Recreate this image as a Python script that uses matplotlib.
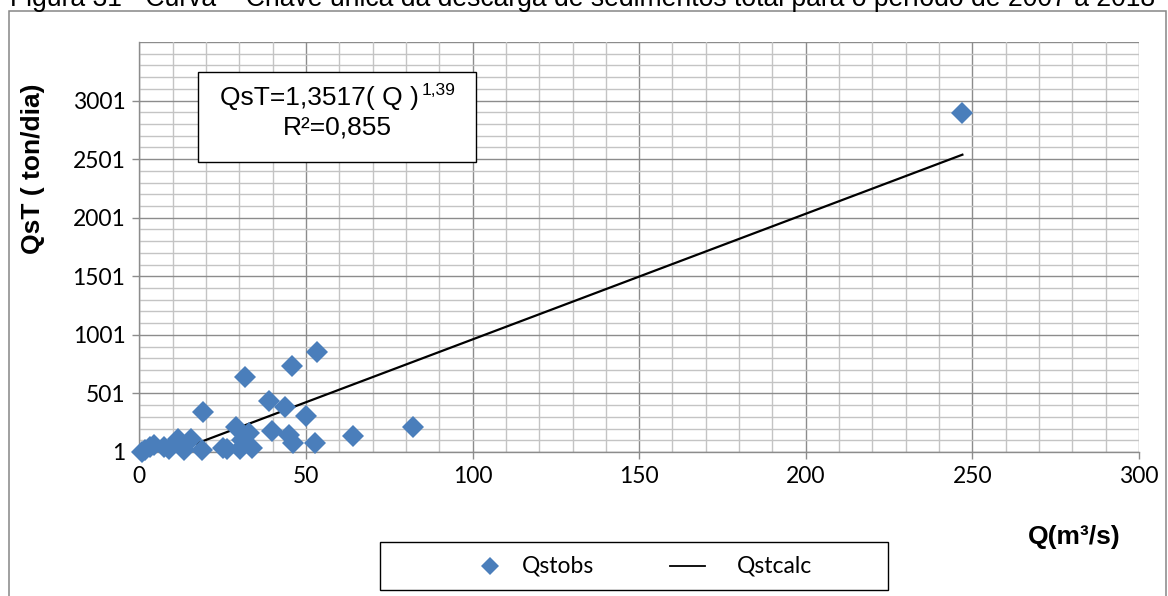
import matplotlib
matplotlib.use("Agg")
import matplotlib.pyplot as plt
from matplotlib.patches import Rectangle
from matplotlib.lines import Line2D
from matplotlib.text import Annotation
from matplotlib.ticker import FixedLocator, MultipleLocator

# Observed discharge (m³/s) and total sediment discharge (ton/dia)
q_obs = [0.7, 1.7, 3.2, 4.5, 7.5, 9.0, 11.7, 12.5, 13.5, 15.5, 18.8,
         19.2, 25.0, 26.2, 29.0, 30.2, 30.8, 31.8, 33.0, 33.7, 39.0,
         39.7, 43.7, 45.0, 45.9, 46.0, 49.9, 52.7, 53.2, 64.0, 82.2, 246.8]
qst_obs = [4, 20, 40, 65, 45, 30, 110, 70, 22, 115, 20,
           345, 38, 30, 217, 30, 105, 638, 160, 33, 437,
           182, 385, 145, 734, 76, 310, 78, 856, 140, 212, 2893]

# Calculated curve
q_calc = [11.2, 247.0]
qst_calc = [9.5, 2539.0]

x_ticks = [0, 50, 100, 150, 200, 250, 300]
y_ticks = [1, 501, 1001, 1501, 2001, 2501, 3001]

W, H = 1168, 596
fig = plt.figure(figsize=(W / 100, H / 100), dpi=100)

def fx(px):
    return px / W

def fy(py):
    return 1 - py / H

# outer chart frame
fig.patches.append(Rectangle((fx(9), fy(620)), fx(1166) - fx(9), fy(11) - fy(620),
                             transform=fig.transFigure, fill=False,
                             edgecolor="#868686", linewidth=1.1, zorder=0))

fig.text(fx(10), fy(6.5),
         "Figura 31 - Curva – Chave única da descarga de sedimentos total para o período de 2007 a 2018",
         fontsize=19.1, family="Liberation Sans", va="baseline", ha="left")

ax = fig.add_axes([fx(139.3), fy(452), fx(1139) - fx(139.3), fy(42) - fy(452)])
ax.set_xlim(0, 300)
ax.set_ylim(1, 3501)

major_grey = "#8c8c8c"
minor_grey = "#c4c4c4"

ax.xaxis.set_major_locator(FixedLocator(x_ticks))
ax.xaxis.set_minor_locator(MultipleLocator(10))
ax.yaxis.set_major_locator(FixedLocator(y_ticks))
ax.yaxis.set_minor_locator(FixedLocator([1 + 100 * i for i in range(1, 35)]))

ax.grid(which="minor", color=minor_grey, linewidth=1.0, zorder=0)
ax.grid(which="major", color=major_grey, linewidth=1.0, zorder=0)
ax.axhline(3501, color=major_grey, linewidth=1.0, zorder=0)
ax.set_axisbelow(True)

for side in ("top", "right"):
    ax.spines[side].set_visible(False)
for side in ("left", "bottom"):
    ax.spines[side].set_color(major_grey)
    ax.spines[side].set_linewidth(1.0)

ax.tick_params(which="major", direction="out", length=5, width=1.0,
               color=major_grey, labelsize=16.5, pad=5)
ax.tick_params(which="minor", length=0)
for lab in ax.get_xticklabels() + ax.get_yticklabels():
    lab.set_family("Lato")

ax.plot(q_calc, qst_calc, color="black", linewidth=1.6, zorder=3)
ax.plot(q_obs, qst_obs, linestyle="none", marker="D", markersize=11.3,
        color="#4a7ebb", markeredgewidth=0, zorder=4, clip_on=False)

# axis titles
fig.text(fx(33), fy(169), "QsT ( ton/dia)", rotation=90, fontsize=19,
         fontweight="bold", family="Liberation Sans", ha="center", va="center")
fig.text(fx(1074), fy(537), "Q(m³/s)", fontsize=19, fontweight="bold",
         family="Liberation Sans", ha="center", va="center")

# equation box
fig.patches.append(Rectangle((fx(198.3), fy(161.7)), fx(476) - fx(198.3), fy(71.7) - fy(161.7),
                             transform=fig.transFigure, facecolor="white",
                             edgecolor="black", linewidth=1.0, zorder=5))
eq = fig.text(fx(220), fy(97.5), "QsT=1,3517( Q )", fontsize=19,
              family="Liberation Sans", ha="left", va="center", zorder=6)
fig.add_artist(Annotation("1,39", xy=(1.0, 0.78), xycoords=eq, xytext=(2, 0),
                          textcoords="offset points", fontsize=12.5,
                          family="Liberation Sans", ha="left", va="center",
                          zorder=7, annotation_clip=False))
fig.text(fx(337.5), fy(127), "R²=0,855", fontsize=19,
         family="Liberation Sans", ha="center", va="center", zorder=6)

# legend
fig.patches.append(Rectangle((fx(380), fy(590)), fx(888) - fx(380), fy(541.7) - fy(590),
                             transform=fig.transFigure, facecolor="white",
                             edgecolor="black", linewidth=1.0, zorder=5))
fig.lines.append(Line2D([fx(490)], [fy(566)], transform=fig.transFigure,
                        marker="D", markersize=9, color="#4a7ebb",
                        markeredgewidth=0, linestyle="none", zorder=6))
fig.text(fx(521.7), fy(566), "Qstobs", fontsize=16.5, family="Lato",
         ha="left", va="center", zorder=6)
fig.lines.append(Line2D([fx(670), fx(705)], [fy(566), fy(566)], transform=fig.transFigure,
                        color="black", linewidth=1.3, zorder=6))
fig.text(fx(736.7), fy(566), "Qstcalc", fontsize=16.5, family="Lato",
         ha="left", va="center", zorder=6)

fig.savefig("out.png", dpi=100)
